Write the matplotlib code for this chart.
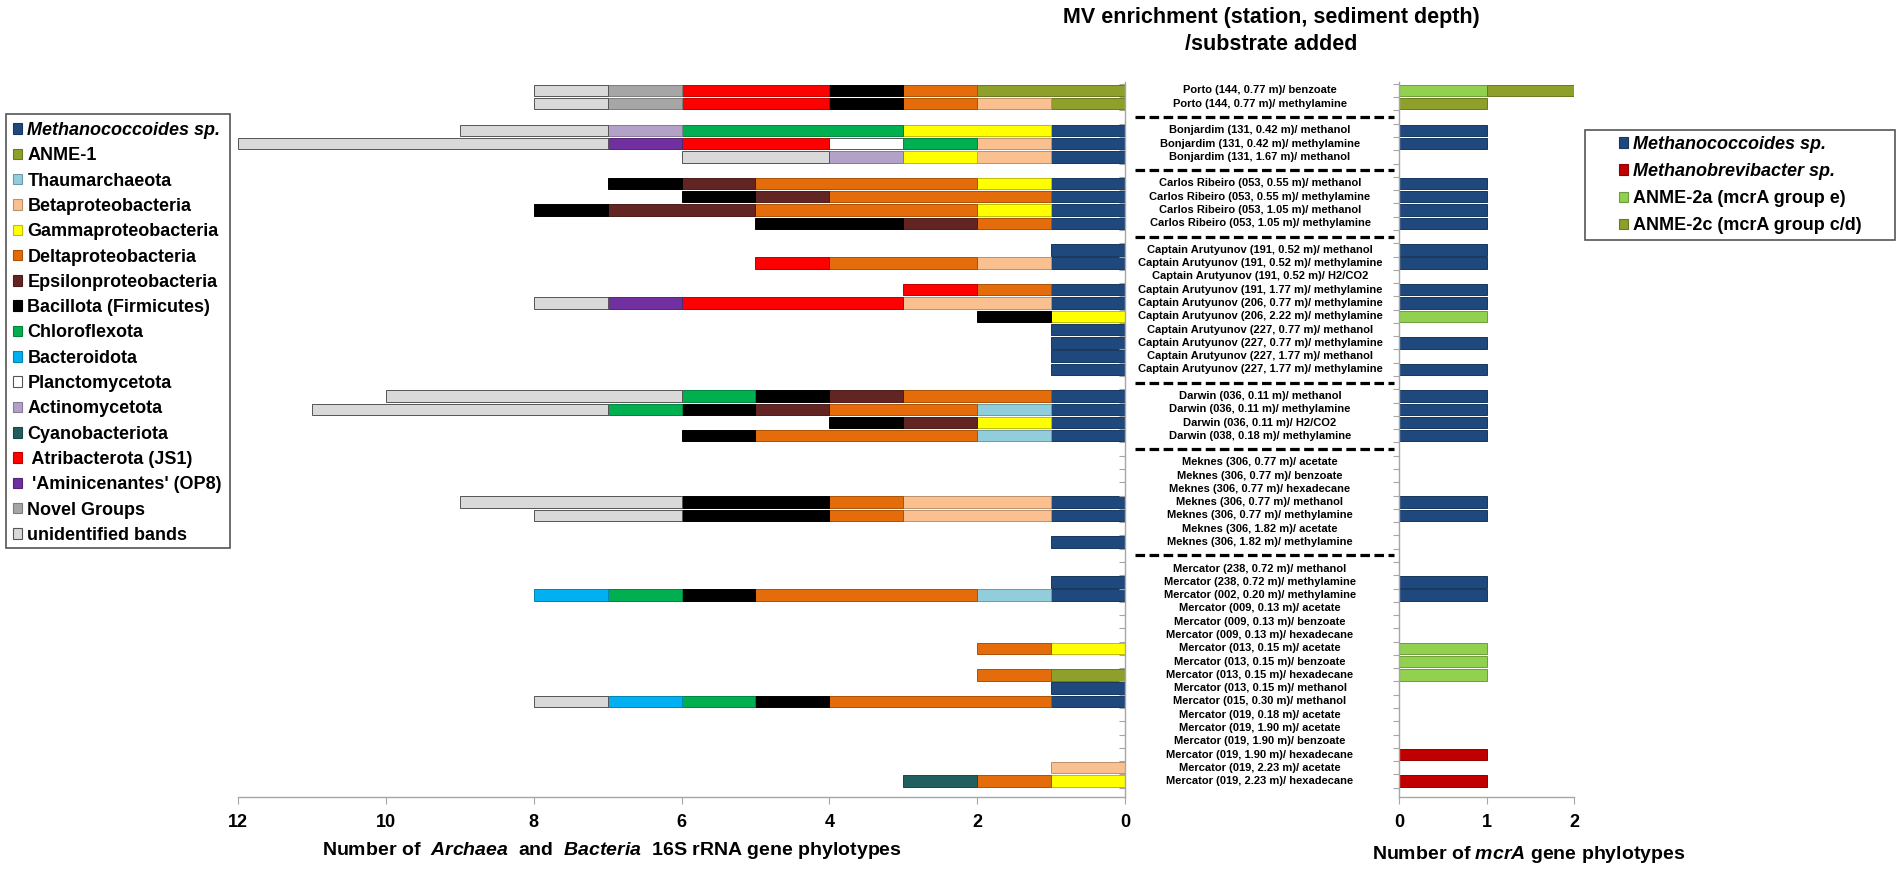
import numpy as np
import matplotlib
matplotlib.use("Agg")
import matplotlib.pyplot as plt
import matplotlib.colors as mcolors
import matplotlib.transforms as mtransforms
from matplotlib.patches import Patch, Rectangle
from matplotlib.lines import Line2D

plt.rcParams["font.family"] = "Liberation Sans"
plt.rcParams["font.weight"] = "bold"
plt.rcParams["mathtext.fontset"] = "custom"
plt.rcParams["mathtext.rm"] = "Liberation Sans:bold"
plt.rcParams["mathtext.it"] = "Liberation Sans:italic:bold"

# ---- samples (station, depth)/substrate, grouped by mud volcano ----
porto = ["Porto (144, 0.77 m)/ benzoate", "Porto (144, 0.77 m)/ methylamine"]
bonjardim = ["Bonjardim (131, 0.42 m)/ methanol", "Bonjardim (131, 0.42 m)/ methylamine",
             "Bonjardim (131, 1.67 m)/ methanol"]
carlos = ["Carlos Ribeiro (053, 0.55 m)/ methanol", "Carlos Ribeiro (053, 0.55 m)/ methylamine",
          "Carlos Ribeiro (053, 1.05 m)/ methanol", "Carlos Ribeiro (053, 1.05 m)/ methylamine"]
captain = ["Captain Arutyunov (191, 0.52 m)/ methanol", "Captain Arutyunov (191, 0.52 m)/ methylamine",
           "Captain Arutyunov (191, 0.52 m)/ H2/CO2", "Captain Arutyunov (191, 1.77 m)/ methylamine",
           "Captain Arutyunov (206, 0.77 m)/ methylamine", "Captain Arutyunov (206, 2.22 m)/ methylamine",
           "Captain Arutyunov (227, 0.77 m)/ methanol", "Captain Arutyunov (227, 0.77 m)/ methylamine",
           "Captain Arutyunov (227, 1.77 m)/ methanol", "Captain Arutyunov (227, 1.77 m)/ methylamine"]
darwin = ["Darwin (036, 0.11 m)/ methanol", "Darwin (036, 0.11 m)/ methylamine",
          "Darwin (036, 0.11 m)/ H2/CO2", "Darwin (038, 0.18 m)/ methylamine"]
meknes = ["Meknes (306, 0.77 m)/ acetate", "Meknes (306, 0.77 m)/ benzoate",
          "Meknes (306, 0.77 m)/ hexadecane", "Meknes (306, 0.77 m)/ methanol",
          "Meknes (306, 0.77 m)/ methylamine", "Meknes (306, 1.82 m)/ acetate",
          "Meknes (306, 1.82 m)/ methylamine"]
mercator = ["Mercator (238, 0.72 m)/ methanol", "Mercator (238, 0.72 m)/ methylamine",
            "Mercator (002, 0.20 m)/ methylamine", "Mercator (009, 0.13 m)/ acetate",
            "Mercator (009, 0.13 m)/ benzoate", "Mercator (009, 0.13 m)/ hexadecane",
            "Mercator (013, 0.15 m)/ acetate", "Mercator (013, 0.15 m)/ benzoate",
            "Mercator (013, 0.15 m)/ hexadecane", "Mercator (013, 0.15 m)/ methanol",
            "Mercator (015, 0.30 m)/ methanol", "Mercator (019, 0.18 m)/ acetate",
            "Mercator (019, 1.90 m)/ acetate", "Mercator (019, 1.90 m)/ benzoate",
            "Mercator (019, 1.90 m)/ hexadecane", "Mercator (019, 2.23 m)/ acetate",
            "Mercator (019, 2.23 m)/ hexadecane"]
groups = [porto, bonjardim, carlos, captain, darwin, meknes, mercator]

# ---- 16S rRNA phylotype counts (order: Porto|Bonjardim|Carlos|Captain|Darwin|Meknes|Mercator) ----
methanococcoides = [0, 0, 1, 1, 1, 1, 1, 1, 1, 1, 1, 0, 1, 1, 0, 1, 1, 1, 1, 1, 1, 1, 1,
                    0, 0, 0, 1, 1, 0, 1, 0, 1, 1, 0, 0, 0, 0, 0, 0, 1, 1, 0, 0, 0, 0, 0, 0]
anme1 = [2, 1, 0, 0, 0, 0, 0, 0, 0, 0, 0, 0, 0, 0, 0, 0, 0, 0, 0, 0, 0, 0, 0,
         0, 0, 0, 0, 0, 0, 0, 0, 0, 0, 0, 0, 0, 0, 0, 1, 0, 0, 0, 0, 0, 0, 0, 0]
thaumarchaeota = [0, 0, 0, 0, 0, 0, 0, 0, 0, 0, 0, 0, 0, 0, 0, 0, 0, 0, 0, 0, 1, 0, 1,
                  0, 0, 0, 0, 0, 0, 0, 0, 0, 1, 0, 0, 0, 0, 0, 0, 0, 0, 0, 0, 0, 0, 0, 0]
beta = [0, 1, 0, 1, 1, 0, 0, 0, 0, 0, 1, 0, 0, 2, 0, 0, 0, 0, 0, 0, 0, 0, 0,
        0, 0, 0, 2, 2, 0, 0, 0, 0, 0, 0, 0, 0, 0, 0, 0, 0, 0, 0, 0, 0, 0, 1, 0]
gamma = [0, 0, 2, 0, 1, 1, 0, 1, 0, 0, 0, 0, 0, 0, 1, 0, 0, 0, 0, 0, 0, 1, 0,
         0, 0, 0, 0, 0, 0, 0, 0, 0, 0, 0, 0, 0, 1, 0, 0, 0, 0, 0, 0, 0, 0, 0, 1]
delta = [1, 1, 0, 0, 0, 3, 3, 3, 1, 0, 2, 0, 1, 0, 0, 0, 0, 0, 0, 2, 2, 0, 3,
         0, 0, 0, 1, 1, 0, 0, 0, 0, 3, 0, 0, 0, 1, 0, 1, 0, 3, 0, 0, 0, 0, 0, 1]
epsilon = [0, 0, 0, 0, 0, 1, 1, 2, 1, 0, 0, 0, 0, 0, 0, 0, 0, 0, 0, 1, 1, 1, 0,
           0, 0, 0, 0, 0, 0, 0, 0, 0, 0, 0, 0, 0, 0, 0, 0, 0, 0, 0, 0, 0, 0, 0, 0]
bacillota = [1, 1, 0, 0, 0, 1, 1, 1, 2, 0, 0, 0, 0, 0, 1, 0, 0, 0, 0, 1, 1, 1, 1,
             0, 0, 0, 2, 2, 0, 0, 0, 0, 1, 0, 0, 0, 0, 0, 0, 0, 1, 0, 0, 0, 0, 0, 0]
chloroflexota = [0, 0, 3, 1, 0, 0, 0, 0, 0, 0, 0, 0, 0, 0, 0, 0, 0, 0, 0, 1, 1, 0, 0,
                 0, 0, 0, 0, 0, 0, 0, 0, 0, 1, 0, 0, 0, 0, 0, 0, 0, 1, 0, 0, 0, 0, 0, 0]
bacteroidota = [0, 0, 0, 0, 0, 0, 0, 0, 0, 0, 0, 0, 0, 0, 0, 0, 0, 0, 0, 0, 0, 0, 0,
                0, 0, 0, 0, 0, 0, 0, 0, 0, 1, 0, 0, 0, 0, 0, 0, 0, 1, 0, 0, 0, 0, 0, 0]
planctomycetota = [0, 0, 0, 1, 0, 0, 0, 0, 0, 0, 0, 0, 0, 0, 0, 0, 0, 0, 0, 0, 0, 0, 0,
                   0, 0, 0, 0, 0, 0, 0, 0, 0, 0, 0, 0, 0, 0, 0, 0, 0, 0, 0, 0, 0, 0, 0, 0]
actinomycetota = [0, 0, 1, 0, 1, 0, 0, 0, 0, 0, 0, 0, 0, 0, 0, 0, 0, 0, 0, 0, 0, 0, 0,
                  0, 0, 0, 0, 0, 0, 0, 0, 0, 0, 0, 0, 0, 0, 0, 0, 0, 0, 0, 0, 0, 0, 0, 0]
cyanobacteriota = [0, 0, 0, 0, 0, 0, 0, 0, 0, 0, 0, 0, 0, 0, 0, 0, 0, 0, 0, 0, 0, 0, 0,
                   0, 0, 0, 0, 0, 0, 0, 0, 0, 0, 0, 0, 0, 0, 0, 0, 0, 0, 0, 0, 0, 0, 0, 1]
atribacterota = [2, 2, 0, 2, 0, 0, 0, 0, 0, 0, 1, 0, 1, 3, 0, 0, 0, 0, 0, 0, 0, 0, 0,
                 0, 0, 0, 0, 0, 0, 0, 0, 0, 0, 0, 0, 0, 0, 0, 0, 0, 0, 0, 0, 0, 0, 0, 0]
aminicenantes = [0, 0, 0, 1, 0, 0, 0, 0, 0, 0, 0, 0, 0, 1, 0, 0, 0, 0, 0, 0, 0, 0, 0,
                 0, 0, 0, 0, 0, 0, 0, 0, 0, 0, 0, 0, 0, 0, 0, 0, 0, 0, 0, 0, 0, 0, 0, 0]
novel = [1, 1, 0, 0, 0, 0, 0, 0, 0, 0, 0, 0, 0, 0, 0, 0, 0, 0, 0, 0, 0, 0, 0,
         0, 0, 0, 0, 0, 0, 0, 0, 0, 0, 0, 0, 0, 0, 0, 0, 0, 0, 0, 0, 0, 0, 0, 0]
unidentified = [1, 1, 2, 5, 2, 0, 0, 0, 0, 0, 0, 0, 0, 1, 0, 0, 0, 0, 0, 4, 4, 0, 0,
                0, 0, 0, 3, 2, 0, 0, 0, 0, 0, 0, 0, 0, 0, 0, 0, 0, 1, 0, 0, 0, 0, 0, 0]

# ---- mcrA phylotype counts ----
mcr_methanococcoides = [0, 0, 1, 1, 0, 1, 1, 1, 1, 1, 1, 0, 1, 1, 0, 0, 1, 0, 1, 1, 1, 1, 1,
                        0, 0, 0, 1, 1, 0, 0, 0, 1, 1, 0, 0, 0, 0, 0, 0, 0, 0, 0, 0, 0, 0, 0, 0]
mcr_methanobrevibacter = [0, 0, 0, 0, 0, 0, 0, 0, 0, 0, 0, 0, 0, 0, 0, 0, 0, 0, 0, 0, 0, 0, 0,
                          0, 0, 0, 0, 0, 0, 0, 0, 0, 0, 0, 0, 0, 0, 0, 0, 0, 0, 0, 0, 0, 1, 0, 1]
mcr_anme2a = [1, 0, 0, 0, 0, 0, 0, 0, 0, 0, 0, 0, 0, 0, 1, 0, 0, 0, 0, 0, 0, 0, 0,
              0, 0, 0, 0, 0, 0, 0, 0, 0, 0, 0, 0, 0, 1, 1, 1, 0, 0, 0, 0, 0, 0, 0, 0]
mcr_anme2c = [1, 1, 0, 0, 0, 0, 0, 0, 0, 0, 0, 0, 0, 0, 0, 0, 0, 0, 0, 0, 0, 0, 0,
              0, 0, 0, 0, 0, 0, 0, 0, 0, 0, 0, 0, 0, 0, 0, 0, 0, 0, 0, 0, 0, 0, 0, 0]

taxa = ["Methanococcoides sp.", "ANME-1", "Thaumarchaeota", "Betaproteobacteria",
        "Gammaproteobacteria", "Deltaproteobacteria", "Epsilonproteobacteria",
        "Bacillota (Firmicutes)", "Chloroflexota", "Bacteroidota", "Planctomycetota",
        "Actinomycetota", "Cyanobacteriota", " Atribacterota (JS1)",
        " 'Aminicenantes' (OP8)", "Novel Groups", "unidentified bands"]
taxa_counts = [methanococcoides, anme1, thaumarchaeota, beta, gamma, delta, epsilon,
               bacillota, chloroflexota, bacteroidota, planctomycetota, actinomycetota,
               cyanobacteriota, atribacterota, aminicenantes, novel, unidentified]
taxa_colors = ["#1F497D", "#8FA02A", "#92CDDC", "#FAC090", "#FFFF00", "#E46C0A", "#632523",
               "#000000", "#00B050", "#00B0F0", "#FFFFFF", "#B3A2C7", "#215E5E", "#FF0000",
               "#7030A0", "#A6A6A6", "#D9D9D9"]

mcr_taxa = ["Methanococcoides sp.", "Methanobrevibacter sp.", "ANME-2a (mcrA group e)",
            "ANME-2c (mcrA group c/d)"]
mcr_counts = [mcr_methanococcoides, mcr_methanobrevibacter, mcr_anme2a, mcr_anme2c]
mcr_colors = ["#1F497D", "#C00000", "#92D050", "#8FA02A"]

W, H = 1902, 871
GRAY = "#A6A6A6"


def fx(px):
    return px / W


def fy(py):
    return 1 - py / H


def edge_of(c):
    if c in ("#FFFFFF", "#D9D9D9"):
        return "#555555"
    r, g, b = mcolors.to_rgb(c)
    return (r * 0.75, g * 0.75, b * 0.75)


# row positions: one blank row between mud volcanoes
labels, ypos, gaps = [], [], []
p = 0
for gi, g in enumerate(groups):
    for s in g:
        labels.append(s)
        ypos.append(p)
        p += 1
    if gi < len(groups) - 1:
        gaps.append(p)
        p += 1
ypos = np.array(ypos)
n_pos = p

fig = plt.figure(figsize=(W / 100, H / 100), dpi=100)

y_top, y_bot = 82, 797
ax = fig.add_axes([fx(238), fy(y_bot), fx(1125) - fx(238), fy(y_top) - fy(y_bot)])
axr = fig.add_axes([fx(1399), fy(y_bot), fx(1574) - fx(1399), fy(y_top) - fy(y_bot)])

BAR_H = 0.86


def stacked(axis, counts, colors):
    cum = np.zeros(len(ypos))
    for vals, col in zip(counts, colors):
        vals = np.array(vals, dtype=float)
        m = vals > 0
        axis.barh(ypos[m], vals[m], left=cum[m], height=BAR_H, color=col,
                  edgecolor=edge_of(col), linewidth=0.7)
        cum += vals


stacked(ax, taxa_counts, taxa_colors)
stacked(axr, mcr_counts, mcr_colors)

ylim = (53.2, -0.64)
for a in (ax, axr):
    a.set_ylim(*ylim)
    a.set_yticks(np.arange(-0.5, n_pos, 1.0))
    a.tick_params(axis="y", length=4, color=GRAY, labelleft=False, labelright=False)
    a.tick_params(axis="x", direction="out", length=5, color=GRAY, labelsize=13, pad=7)
    a.spines["top"].set_visible(False)
    for s in a.spines.values():
        s.set_color(GRAY)
        s.set_linewidth(1.0)

ax.set_xlim(12, 0)
ax.set_xticks(range(0, 13, 2))
ax.spines["left"].set_visible(False)
ax.yaxis.tick_right()
ax.tick_params(axis="y", direction="in")

axr.set_xlim(0, 2)
axr.set_xticks([0, 1, 2])
axr.spines["right"].set_visible(False)
axr.tick_params(axis="y", direction="out")

# sample labels and dividers in the gap between panels
tr = mtransforms.blended_transform_factory(fig.transFigure, ax.transData)
for lab, yv in zip(labels, ypos):
    fig.text(fx(1260), yv, lab, transform=tr, ha="center", va="center", fontsize=8)
for gy in gaps:
    fig.add_artist(Line2D([fx(1135), fx(1394)], [gy, gy], transform=tr, color="black",
                          linewidth=2.3, dashes=(3.0, 1.4)))

fig.text(fx(1271), fy(18), "MV enrichment (station, sediment depth)", ha="center",
         va="center", fontsize=15.5)
fig.text(fx(1271), fy(44), "/substrate added", ha="center", va="center", fontsize=15.5)

fig.text(fx(612), fy(850), r"Number of  $\mathit{Archaea}$  and  $\mathit{Bacteria}$  16S rRNA gene phylotypes",
         ha="center", va="center", fontsize=14)
fig.text(fx(1529), fy(854), r"Number of $\mathit{mcrA}$ gene phylotypes",
         ha="center", va="center", fontsize=14)

# legends
h1 = [Patch(facecolor=c, edgecolor=edge_of(c), linewidth=0.8) for c in taxa_colors]
leg1 = fig.legend(h1, taxa, loc="upper left", bbox_to_anchor=(fx(13), fy(122)),
                  frameon=False, borderpad=0, borderaxespad=0, fontsize=13,
                  handlelength=0.52, handleheight=0.52, handletextpad=0.28,
                  labelspacing=0.46)
leg1.get_texts()[0].set_fontstyle("italic")
fig.add_artist(Rectangle((fx(6), fy(548)), fx(230) - fx(6), fy(114) - fy(548),
                         transform=fig.transFigure, fill=False, edgecolor="#555555",
                         linewidth=1.2))

h2 = [Patch(facecolor=c, edgecolor=edge_of(c), linewidth=0.8) for c in mcr_colors]
leg2 = fig.legend(h2, mcr_taxa, loc="upper left", bbox_to_anchor=(fx(1619), fy(136)),
                  frameon=False, borderpad=0, borderaxespad=0, fontsize=13,
                  handlelength=0.52, handleheight=0.52, handletextpad=0.28,
                  labelspacing=0.56)
leg2.get_texts()[0].set_fontstyle("italic")
leg2.get_texts()[1].set_fontstyle("italic")
fig.add_artist(Rectangle((fx(1585), fy(240)), fx(1895) - fx(1585), fy(130) - fy(240),
                         transform=fig.transFigure, fill=False, edgecolor="#555555",
                         linewidth=1.2))

fig.savefig("out.png", dpi=100)
